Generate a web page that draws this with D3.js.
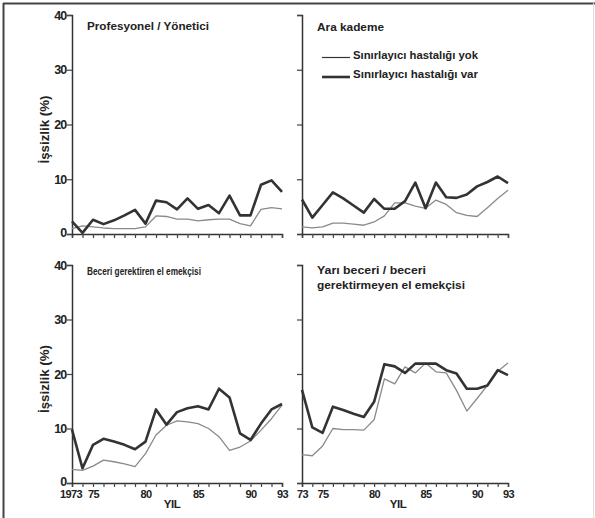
<!DOCTYPE html>
<html><head><meta charset="utf-8">
<script src="https://cdn.jsdelivr.net/npm/d3@7"></script>
<style>body{margin:0;background:#fff}svg{display:block}text{font-family:"Liberation Sans",Arial,sans-serif;font-weight:bold;fill:#222}</style>
</head><body>
<svg id="c" width="595" height="518"></svg>
<script>
const years = [1973,1974,1975,1976,1977,1978,1979,1980,1981,1982,1983,1984,1985,1986,1987,1988,1989,1990,1991,1992,1993];
const yTicks = [0,10,20,30,40];
const xLabelYears = [1973,1975,1980,1985,1990,1993];
const xLabelsLeft = ["1973","75","80","85","90","93"];
const xLabelsRight = ["73","75","80","85","90","93"];
const seriesNames = ["Sınırlayıcı hastalığı yok","Sınırlayıcı hastalığı var"];
const panelTitles = [["Profesyonel / Yönetici"],["Ara kademe"],["Beceri gerektiren el emekçisi"],["Yarı beceri / beceri","gerektirmeyen el emekçisi"]];
const yTitle = "İşsizlik (%)";
const xTitle = "YIL";

const profYok = [1.0,1.5,1.3,1.1,1.0,1.0,1.0,1.3,3.3,3.2,2.7,2.7,2.4,2.6,2.7,2.7,1.9,1.5,4.5,4.8,4.6];
const profVar = [2.3,0.2,2.6,1.8,2.5,3.4,4.4,1.9,6.1,5.8,4.5,6.5,4.6,5.3,3.8,7.0,3.4,3.4,9.0,9.8,7.7];
const araYok  = [1.3,1.1,1.3,2.0,2.0,1.8,1.6,2.2,3.3,5.7,5.7,5.1,4.7,6.2,5.4,3.9,3.4,3.2,4.8,6.5,8.0];
const araVar  = [6.3,3.0,5.3,7.6,6.5,5.2,3.9,6.4,4.6,4.6,6.0,9.4,4.7,9.4,6.7,6.6,7.2,8.7,9.5,10.5,9.3];
const becYok  = [2.5,2.3,3.1,4.2,3.9,3.5,3.0,5.4,8.8,10.6,11.4,11.2,10.9,10.0,8.5,6.0,6.6,7.7,9.7,11.8,14.3];
const becVar  = [9.8,2.7,7.0,8.1,7.6,7.0,6.2,7.6,13.5,10.7,13.0,13.7,14.1,13.5,17.3,15.7,9.1,7.9,10.9,13.5,14.5];
const yariYok = [5.2,5.0,6.8,10.0,9.8,9.8,9.7,11.6,19.1,18.2,21.3,20.2,22.0,20.4,20.2,17.0,13.2,15.5,17.9,20.5,22.0];
const yariVar = [17.1,10.2,9.2,14.0,13.4,12.7,12.1,14.9,21.8,21.4,20.2,21.9,21.9,21.9,20.7,20.1,17.3,17.3,17.9,20.7,19.8];

const panelData = [[profYok,profVar],[araYok,araVar],[becYok,becVar],[yariYok,yariVar]];
const boxes = [
  {x0:72,x1:282,yb:234,yt:15,yLabels:true,xLabels:null,left:true,
   title:{size:11,lens:[122],base:[30]}},
  {x0:302,x1:508,yb:234,yt:15,yLabels:false,xLabels:null,left:false,
   title:{size:11,lens:[67],base:[31]}},
  {x0:72,x1:282,yb:483,yt:265,yLabels:true,xLabels:xLabelsLeft,left:true,
   title:{size:11,lens:[114],base:[275]}},
  {x0:302,x1:508,yb:483,yt:265,yLabels:false,xLabels:xLabelsRight,left:false,
   title:{size:11.5,lens:[109,148],base:[274,289]}}
];
const svg = d3.select("#c");
// frame
svg.append("line").attr("x1",3).attr("x2",595).attr("y1",3.5).attr("y2",3.5).attr("stroke","#444").attr("stroke-width",2);
svg.append("line").attr("x1",3.5).attr("x2",3.5).attr("y1",3).attr("y2",518).attr("stroke","#444").attr("stroke-width",2);
svg.append("line").attr("x1",593.5).attr("x2",593.5).attr("y1",3).attr("y2",518).attr("stroke","#ddd").attr("stroke-width",1);

const styles = [{c:"#8a8a8a",w:1.3},{c:"#333",w:2.6}];

boxes.forEach((b,i)=>{
  const x = d3.scaleLinear().domain([1973,1993]).range([b.x0,b.x1]);
  const y = d3.scaleLinear().domain([0,40]).range([b.yb,b.yt]);
  const g = svg.append("g");
  // x axis
  const xa = d3.axisBottom(x).tickValues(years).tickSize(4).tickFormat((d)=>{
    if(!b.xLabels) return "";
    const k = xLabelYears.indexOf(d); return k>=0 ? b.xLabels[k] : "";
  });
  const gx = g.append("g").attr("transform",`translate(0,${b.yb})`).call(xa);
  gx.select(".domain").attr("stroke","#333").attr("stroke-width",1.5);
  gx.selectAll(".tick line").attr("stroke","#444").attr("stroke-width",1.2);
  gx.selectAll(".tick text").style("font-size","11px").attr("dy","0.85em").attr("y",6).style("letter-spacing","-0.6px").attr("fill","#222")
    .attr("dx",d=>d===1973&&b.left?-1.5:0);
  // y axis
  const ya = d3.axisLeft(y).tickValues(yTicks).tickSize(5).tickFormat(b.yLabels? d3.format("d") : ()=>"");
  const gy = g.append("g").attr("transform",`translate(${b.x0},0)`).call(ya);
  gy.select(".domain").attr("stroke","#333").attr("stroke-width",1.5);
  gy.selectAll(".tick line").attr("stroke","#444").attr("stroke-width",1.2);
  gy.selectAll(".tick text").style("font-size","12.5px").attr("x",-5.5).style("letter-spacing","-0.8px").attr("fill","#222")
    .attr("dy",d=>d===0?"0.2em":"0.32em");
  // lines
  panelData[i].forEach((vals,s)=>{
    const line = d3.line().x((d,k)=>x(years[k])).y(d=>y(d));
    g.append("path").datum(vals).attr("d",line).attr("fill","none")
      .attr("stroke",styles[s].c).attr("stroke-width",styles[s].w).attr("stroke-linejoin","round");
  });
  // title
  panelTitles[i].forEach((ln,k)=>{
    g.append("text").attr("x",b.x0+15).attr("y",b.title.base[k])
      .style("font-size",b.title.size+"px")
      .attr("textLength",b.title.lens[k]).attr("lengthAdjust","spacingAndGlyphs").text(ln);
  });
  if(b.left){
    g.append("text").attr("transform",`translate(${b.x0-23},${(b.yb+b.yt)/2+5}) rotate(-90)`)
      .attr("text-anchor","middle").style("font-size","12px")
      .attr("textLength",68).attr("lengthAdjust","spacingAndGlyphs").text(yTitle);
  }
  if(b.xLabels){
    g.append("text").attr("x",(b.x0+b.x1)/2-5-(b.left?0:2)).attr("y",b.yb+25).attr("text-anchor","middle")
      .style("font-size","11.5px").style("letter-spacing","-0.5px").text(xTitle);
  }
});

// legend in panel 2
const lb = boxes[1];
seriesNames.forEach((nm,s)=>{
  const ly = [57.5,77][s];
  svg.append("line").attr("x1",lb.x0+20).attr("x2",lb.x0+48).attr("y1",ly).attr("y2",ly)
    .attr("stroke","#333").attr("stroke-width",s===0?1.2:2.6);
  svg.append("text").attr("x",lb.x0+51).attr("y",ly+1).style("font-size","10px")
    .attr("textLength",125).attr("lengthAdjust","spacingAndGlyphs").text(nm);
});
</script>
</body></html>
